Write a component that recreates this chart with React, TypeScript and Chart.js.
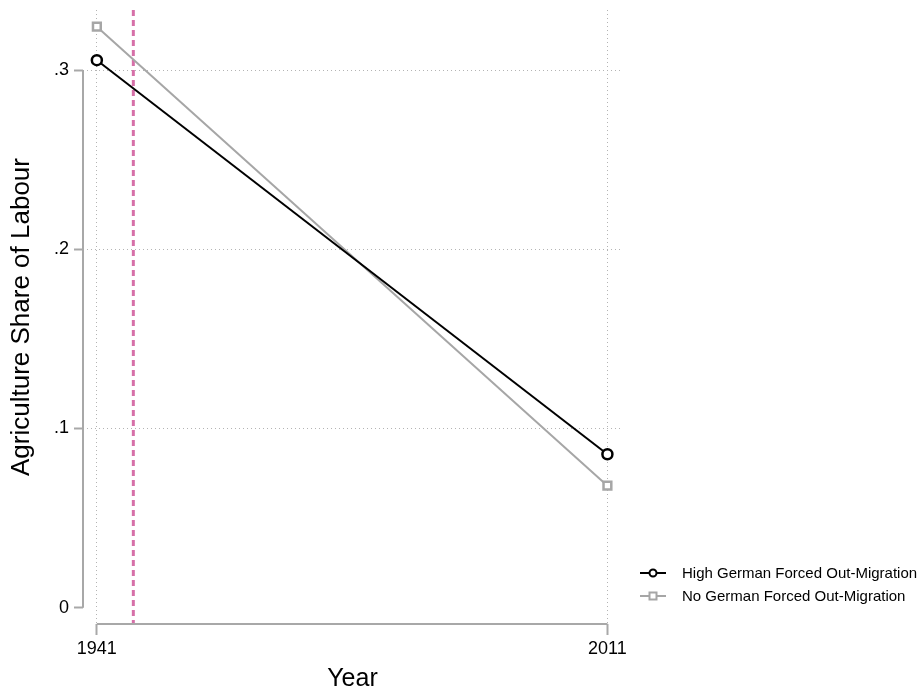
import React, { useEffect, useRef } from "react";
import { Chart, registerables } from "chart.js";

Chart.register(...registerables);

const years = [1941, 2011];
const highSeries = [0.3055, 0.0856];
const noSeries = [0.3242, 0.0681];
const yTicks = [0, 0.1, 0.2, 0.3];
const referenceYear = 1946;
const seriesLabels = ["High German Forced Out-Migration", "No German Forced Out-Migration"];

const FONT = "'Liberation Sans', Arial, Helvetica, sans-serif";
const AXIS_COLOR = "#a8a8a8";
const GRID_COLOR = "#b4b4b4";

const axisPlugin = {
  id: "stataAxes",
  beforeDatasetsDraw(chart: any) {
    const { ctx, chartArea, scales } = chart;
    const x = scales.x;
    const y = scales.y;
    ctx.save();
    const px = x.getPixelForValue(referenceYear);
    ctx.strokeStyle = "#d670a8";
    ctx.lineWidth = 3;
    ctx.setLineDash([6, 4]);
    ctx.beginPath();
    ctx.moveTo(px, chartArea.top);
    ctx.lineTo(px, chartArea.bottom);
    ctx.stroke();
    ctx.setLineDash([]);
    ctx.strokeStyle = AXIS_COLOR;
    ctx.lineWidth = 2;
    ctx.beginPath();
    ctx.moveTo(chartArea.left, y.getPixelForValue(yTicks[0]));
    ctx.lineTo(chartArea.left, y.getPixelForValue(yTicks[yTicks.length - 1]));
    ctx.moveTo(x.getPixelForValue(years[0]), chartArea.bottom);
    ctx.lineTo(x.getPixelForValue(years[years.length - 1]), chartArea.bottom);
    ctx.stroke();
    ctx.restore();
  },
};

function LegendSample({ color, shape }: { color: string; shape: "circle" | "square" }) {
  return (
    <svg width="28" height="12" style={{ display: "block" }}>
      <line x1="0" y1="6" x2="26" y2="6" stroke={color} strokeWidth="2" />
      {shape === "circle" ? (
        <circle cx="13" cy="6" r="3.5" fill="white" stroke={color} strokeWidth="2" />
      ) : (
        <rect x="9.5" y="2.5" width="7" height="7" fill="white" stroke={color} strokeWidth="2" />
      )}
    </svg>
  );
}

export default function App() {
  const canvasRef = useRef<HTMLCanvasElement | null>(null);

  useEffect(() => {
    const canvas = canvasRef.current;
    if (!canvas) return;
    const chart = new Chart(canvas, {
      type: "line",
      data: {
        datasets: [
          {
            label: seriesLabels[0],
            data: years.map((yr, i) => ({ x: yr, y: highSeries[i] })),
            borderColor: "#000000",
            borderWidth: 2,
            pointStyle: "circle",
            pointRadius: 5,
            pointBorderWidth: 2.5,
            pointBorderColor: "#000000",
            pointBackgroundColor: "#ffffff",
          },
          {
            label: seriesLabels[1],
            data: years.map((yr, i) => ({ x: yr, y: noSeries[i] })),
            borderColor: "#a6a6a6",
            borderWidth: 2,
            pointStyle: "rect",
            pointRadius: 5.5,
            pointBorderWidth: 2.5,
            pointBorderColor: "#a6a6a6",
            pointBackgroundColor: "#ffffff",
          },
        ],
      },
      options: {
        responsive: false,
        animation: false,
        layout: { padding: { top: 10, right: 302, left: 0, bottom: 0 } },
        plugins: { legend: { display: false }, tooltip: { enabled: false } },
        scales: {
          x: {
            type: "linear",
            min: 1939.1,
            max: 2013,
            afterBuildTicks: (s: any) => {
              s.ticks = years.map((v) => ({ value: v }));
            },
            afterFit: (s: any) => {
              s.height = 72;
              s.paddingLeft = 0;
              s.paddingRight = 0;
            },
            border: { display: false, dash: [1, 3] },
            grid: {
              color: GRID_COLOR,
              lineWidth: 1,
              drawTicks: true,
              tickLength: 11,
              tickColor: AXIS_COLOR,
              tickWidth: 2,
              tickBorderDash: [],
            },
            ticks: {
              color: "#000",
              font: { family: FONT, size: 18 },
              padding: 3,
              maxRotation: 0,
              callback: (v: any) => String(v),
            },
            title: {
              display: true,
              text: "Year",
              color: "#000",
              font: { family: FONT, size: 25 },
              padding: { top: 4, bottom: 2 },
            },
          },
          y: {
            type: "linear",
            min: -0.0091,
            max: 0.3335,
            afterBuildTicks: (s: any) => {
              s.ticks = yTicks.map((v) => ({ value: v }));
            },
            afterFit: (s: any) => {
              s.width = 83;
              s.paddingTop = 0;
              s.paddingBottom = 0;
            },
            border: { display: false, dash: [1, 3] },
            grid: {
              color: (c: any) => (c.tick && c.tick.value === 0 ? "rgba(0,0,0,0)" : GRID_COLOR),
              lineWidth: 1,
              drawTicks: true,
              tickLength: 9,
              tickColor: AXIS_COLOR,
              tickWidth: 2,
              tickBorderDash: [],
            },
            ticks: {
              color: "#000",
              font: { family: FONT, size: 18 },
              padding: 5,
              callback: (v: any) => (v === 0 ? "0" : "." + Math.round(v * 10)),
            },
            title: {
              display: true,
              text: "Agriculture Share of Labour",
              color: "#000",
              font: { family: FONT, size: 26 },
              padding: { top: 6, bottom: 4 },
            },
          },
        },
      },
      plugins: [axisPlugin],
    } as any);
    return () => chart.destroy();
  }, []);

  const legendItems = [
    { label: seriesLabels[0], color: "#000000", shape: "circle" as const },
    { label: seriesLabels[1], color: "#a6a6a6", shape: "square" as const },
  ];

  return (
    <div style={{ position: "fixed", left: 0, top: 0, width: 924, height: 696, background: "#fff" }}>
      <canvas ref={canvasRef} width={924} height={696} style={{ display: "block" }} />
      <div style={{ position: "absolute", left: 640, top: 561, fontFamily: FONT, fontSize: 15, color: "#000" }}>
        {legendItems.map((it) => (
          <div key={it.label} style={{ display: "flex", alignItems: "center", height: 23, whiteSpace: "nowrap" }}>
            <LegendSample color={it.color} shape={it.shape} />
            <span style={{ marginLeft: 14 }}>{it.label}</span>
          </div>
        ))}
      </div>
    </div>
  );
}
